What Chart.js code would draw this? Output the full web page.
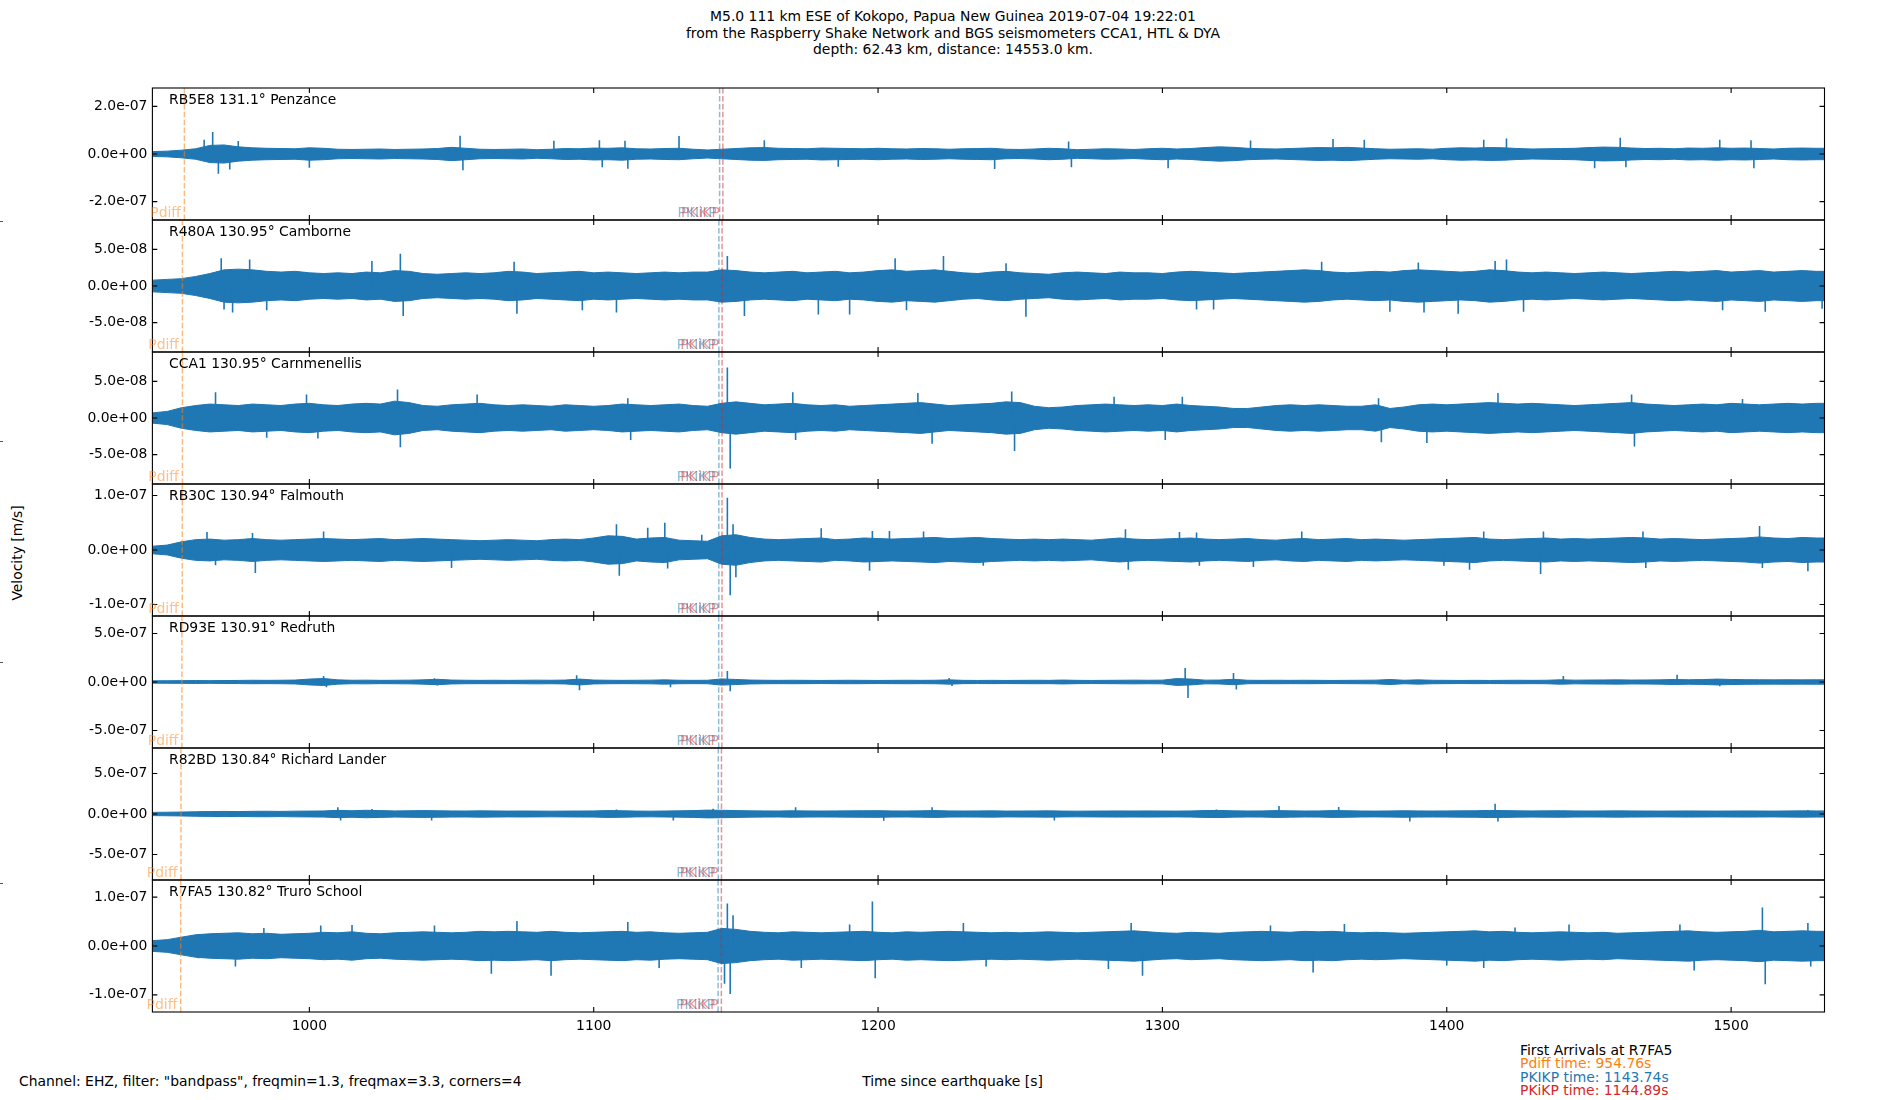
<!DOCTYPE html>
<html>
<head>
<meta charset="utf-8">
<script src="https://cdn.jsdelivr.net/npm/chart.js@4.4.1/dist/chart.umd.min.js"></script>
<style>
  body { margin: 0; background: #fff; width: 1900px; height: 1100px; position: relative; overflow: hidden;
         font-family: "DejaVu Sans", sans-serif; font-size: 13.9px; color: #000; }
  .t { position: absolute; white-space: nowrap; line-height: 16.7px; }
  canvas { position: absolute; left: 0; }
  .mark { position: absolute; left: 0; width: 3px; height: 1px; background: #555; }
</style>
</head>
<body>
<div class="t" style="left:0;width:1906px;top:8px;text-align:center">M5.0 111 km ESE of Kokopo, Papua New Guinea 2019-07-04 19:22:01<br>from the Raspberry Shake Network and BGS seismometers CCA1, HTL &amp; DYA<br>depth: 62.43 km, distance: 14553.0 km.</div>
<div class="t" style="left:17px;top:553px;transform:translate(-50%,-50%) rotate(-90deg)">Velocity [m/s]</div>
<div class="t" style="left:19px;top:1073px">Channel: EHZ, filter: "bandpass", freqmin=1.3, freqmax=3.3, corners=4</div>
<div class="t" style="left:0;width:1905px;top:1073px;text-align:center">Time since earthquake [s]</div>
<div class="t" style="left:1520px;top:1044px;line-height:13.4px">First Arrivals at R7FA5<br><span style="color:#ff7f0e">Pdiff time: 954.76s</span><br><span style="color:#1f77b4">PKIKP time: 1143.74s</span><br><span style="color:#d62728">PKiKP time: 1144.89s</span></div>
<div class="mark" style="top:221px"></div>
<div class="mark" style="top:441px"></div>
<div class="mark" style="top:662px"></div>
<div class="mark" style="top:883px"></div>
<div id="panels"></div>
<script>
// time bins (s since origin), 5 s apart
const binTimes = [
  945, 950, 955, 960, 965, 970, 975, 980, 985, 990,
  995, 1000, 1005, 1010, 1015, 1020, 1025, 1030, 1035, 1040,
  1045, 1050, 1055, 1060, 1065, 1070, 1075, 1080, 1085, 1090,
  1095, 1100, 1105, 1110, 1115, 1120, 1125, 1130, 1135, 1140,
  1145, 1150, 1155, 1160, 1165, 1170, 1175, 1180, 1185, 1190,
  1195, 1200, 1205, 1210, 1215, 1220, 1225, 1230, 1235, 1240,
  1245, 1250, 1255, 1260, 1265, 1270, 1275, 1280, 1285, 1290,
  1295, 1300, 1305, 1310, 1315, 1320, 1325, 1330, 1335, 1340,
  1345, 1350, 1355, 1360, 1365, 1370, 1375, 1380, 1385, 1390,
  1395, 1400, 1405, 1410, 1415, 1420, 1425, 1430, 1435, 1440,
  1445, 1450, 1455, 1460, 1465, 1470, 1475, 1480, 1485, 1490,
  1495, 1500, 1505, 1510, 1515, 1520, 1525, 1530, 1535
];
const xTicks = [1000, 1100, 1200, 1300, 1400, 1500];

// trace envelopes, units of 1e-8 m/s (half-width of the dense band per bin)
const envRB5E8 = [
  1.0, 1.2, 1.6, 2.2, 3.6, 3.8, 3.0, 2.6, 2.4, 2.3,
  2.2, 2.6, 2.4, 2.0, 1.9, 2.0, 2.1, 1.9, 2.0, 2.1,
  2.3, 2.8, 2.4, 2.0, 1.9, 2.0, 2.1, 1.8, 2.0, 2.3,
  2.2, 2.5, 2.4, 2.6, 2.2, 2.1, 2.3, 2.4, 2.0, 1.7,
  2.0, 2.3, 2.6, 2.7, 2.4, 2.3, 2.2, 2.5, 2.4, 2.3,
  2.2, 2.4, 2.2, 2.1, 2.3, 2.2, 2.0, 2.2, 2.3, 2.4,
  2.0, 1.9, 2.1, 2.4, 2.2, 1.8, 2.0, 2.2, 2.1, 1.9,
  2.2, 2.4, 2.1, 2.3, 2.7, 3.0, 2.8, 2.4, 2.2, 2.1,
  2.3, 2.5, 2.7, 2.6, 2.8, 2.5, 2.2, 2.0, 2.1, 2.2,
  2.0, 2.4, 2.6, 2.5, 2.7, 2.6, 2.3, 2.1, 2.2, 2.3,
  2.4, 2.7, 2.9, 2.8, 2.5, 2.3, 2.4, 2.2, 2.5, 2.4,
  2.6, 2.4, 2.5, 2.3, 2.1, 2.4, 2.5, 2.4, 2.4
];
const envR480A = [
  0.8, 0.9, 1.0, 1.3, 1.7, 2.2, 2.3, 2.2, 2.0, 1.9,
  2.0, 1.8, 1.7, 1.8, 1.7, 1.9, 1.8, 2.1, 2.0, 1.7,
  1.6, 1.7, 1.8, 1.7, 1.8, 2.0, 1.9, 1.7, 1.8, 1.9,
  2.0, 1.8, 1.9, 1.8, 1.7, 1.8, 1.9, 1.8, 1.9, 1.9,
  2.2, 2.1, 1.9, 1.8, 1.9, 2.0, 1.8, 1.9, 2.0, 1.8,
  1.9, 2.1, 2.2, 2.0, 2.1, 2.2, 2.0, 1.8, 1.7, 1.9,
  2.0, 1.8, 1.7, 1.6, 1.8, 1.9, 1.8, 1.7, 1.9, 1.8,
  1.8, 1.7, 1.9, 2.0, 1.9, 1.8, 1.7, 1.8, 1.9, 2.0,
  2.1, 2.2, 2.1, 1.9, 1.8, 1.9, 2.0, 1.9, 2.1, 2.2,
  2.1, 2.0, 1.9, 2.0, 2.2, 2.1, 1.9, 1.8, 1.9, 1.8,
  1.7, 1.8, 1.9, 1.8, 1.7, 1.8, 1.9, 2.0, 1.9, 2.0,
  2.1, 1.9, 2.0, 2.1, 1.9, 2.0, 2.1, 2.0, 2.0
];
const envCCA1 = [
  0.7, 0.9, 1.4, 1.7, 1.9, 1.8, 1.7, 1.9, 1.8, 1.7,
  1.9, 2.0, 1.8, 1.7, 1.9, 2.0, 1.9, 2.3, 2.1, 1.7,
  1.6, 1.8, 1.9, 2.0, 1.8, 1.7, 1.8, 1.7, 1.6, 1.8,
  1.7, 1.6, 1.7, 1.9, 1.8, 1.7, 1.8, 1.9, 1.7, 1.6,
  2.0, 2.2, 2.0, 1.8, 1.9, 2.0, 1.8, 1.7, 1.8, 1.6,
  1.7, 1.8, 1.9, 2.0, 2.1, 1.9, 1.7, 1.8, 1.9, 2.0,
  2.2, 2.1, 1.6, 1.4, 1.5, 1.7, 1.8, 1.9, 1.8, 1.7,
  1.8, 1.7, 1.9, 1.7, 1.6, 1.5, 1.3, 1.3, 1.5, 1.7,
  1.8, 1.7, 1.8, 1.7, 1.6, 1.6, 1.8, 1.3, 1.5, 1.8,
  1.9, 1.8, 1.9, 2.0, 2.1, 2.0, 1.9, 2.0, 1.9, 1.8,
  1.7, 1.8, 1.9, 2.0, 2.1, 1.9, 1.8, 1.7, 1.8, 1.9,
  1.8, 2.0, 1.9, 1.8, 1.9, 2.0, 1.9, 2.0, 2.0
];
const envRB30C = [
  0.7, 0.9, 1.5, 1.9, 2.0, 1.8, 1.9, 2.1, 1.9, 1.8,
  1.9, 2.0, 2.1, 2.0, 1.9, 2.0, 2.1, 1.9, 2.0, 2.1,
  2.0, 1.9, 1.8, 1.7, 1.8, 1.9, 1.8, 1.7, 1.9, 2.0,
  1.9, 2.2, 2.6, 2.5, 2.0, 2.2, 2.3, 1.8, 1.7, 1.6,
  2.6, 2.8, 2.3, 2.0, 1.9, 2.0, 2.1, 2.2, 1.9, 2.0,
  2.2, 2.1, 2.0, 2.1, 2.2, 2.3, 2.1, 2.2, 2.3, 2.1,
  2.0, 1.9, 2.0, 1.9, 2.0, 1.9, 1.8, 2.0, 2.2, 2.0,
  1.9, 2.0, 2.1, 2.2, 2.0, 1.9, 2.0, 2.1, 1.9, 1.8,
  2.0, 2.1, 1.9, 2.0, 2.1, 1.9, 2.0, 1.9, 1.8, 1.9,
  2.0, 2.1, 2.2, 2.3, 2.0, 1.9, 2.0, 2.1, 2.2, 2.0,
  2.1, 2.0, 2.1, 2.2, 2.3, 2.2, 2.0, 2.1, 2.0, 1.9,
  2.0, 2.1, 2.2, 2.4, 2.2, 2.1, 2.3, 2.2, 2.2
];
const envRD93E = [
  1.2, 1.3, 1.4, 1.5, 1.4, 1.5, 1.6, 1.8, 1.7, 1.8,
  2.0, 3.0, 3.6, 2.2, 1.8, 1.9, 1.7, 1.8, 1.9, 2.2,
  2.8, 2.0, 1.8, 1.7, 1.8, 1.7, 1.8, 1.9, 1.8, 2.0,
  3.0, 2.0, 1.8, 1.7, 1.8, 1.9, 2.2, 1.8, 1.7, 1.8,
  3.2, 2.6, 2.0, 1.8, 1.7, 1.8, 1.7, 1.6, 1.7, 1.8,
  1.7, 1.6, 1.7, 1.8, 1.7, 1.8, 2.2, 1.7, 1.6, 1.7,
  1.6, 1.7, 1.8, 1.7, 2.0, 1.7, 1.6, 1.7, 1.8, 1.9,
  1.8, 1.9, 3.5, 3.0, 1.9, 2.0, 2.8, 1.8, 1.7, 1.8,
  1.7, 1.8, 1.7, 1.6, 1.7, 1.8, 1.9, 2.6, 1.8, 2.2,
  1.8, 1.7, 1.6, 1.7, 1.6, 1.7, 1.8, 1.7, 1.8, 2.3,
  1.9, 2.0, 2.1, 2.2, 2.0, 2.1, 2.2, 2.6, 2.3, 2.5,
  3.0, 2.6, 2.4, 2.3, 2.2, 2.3, 2.2, 2.3, 2.3
];
const envR82BD = [
  2.0, 2.2, 2.4, 2.8, 3.0, 3.2, 3.0, 3.3, 3.4, 3.2,
  3.5, 3.6, 3.8, 4.5, 4.0, 4.6, 4.2, 3.8, 4.0, 4.2,
  4.0, 3.8, 3.7, 3.9, 3.8, 3.6, 3.7, 3.6, 3.5, 3.6,
  3.7, 3.8, 4.2, 4.0, 3.6, 3.5, 3.7, 3.9, 4.2, 4.8,
  4.6, 4.2, 3.9, 3.8, 3.7, 4.0, 3.8, 3.7, 3.8, 3.9,
  4.0, 4.1, 3.8, 3.7, 3.9, 4.2, 3.8, 3.7, 3.8, 3.9,
  3.6, 3.7, 3.8, 3.9, 3.6, 3.5, 3.6, 3.7, 3.8, 3.7,
  3.8, 3.7, 3.6, 3.8, 4.2, 4.4, 3.9, 3.7, 3.8, 4.2,
  3.9, 3.7, 3.8, 4.2, 4.0, 3.7, 3.6, 3.8, 4.0, 3.8,
  3.7, 3.8, 3.9, 4.0, 4.4, 4.2, 3.9, 3.8, 3.9, 4.0,
  3.8, 3.7, 3.8, 3.9, 3.8, 3.7, 3.6, 3.7, 3.8, 3.7,
  3.6, 3.7, 3.8, 3.7, 3.6, 3.8, 3.9, 3.8, 3.8
];
const envR7FA5 = [
  1.1, 1.3, 1.8, 2.3, 2.5, 2.6, 2.7, 2.5, 2.6, 2.4,
  2.5, 2.6, 2.8, 2.7, 2.9, 2.6, 2.5, 2.7, 2.8, 2.9,
  2.8, 2.7, 2.8, 3.0, 2.9, 3.0, 2.9, 2.8, 3.0, 2.8,
  2.7, 2.8, 2.9, 3.0, 2.8, 2.9, 2.7, 2.6, 2.7, 2.8,
  3.6, 3.4, 3.0, 2.8, 2.7, 2.9, 2.8, 2.7, 2.8, 2.9,
  3.0, 2.8, 2.7, 2.9, 2.8, 2.9, 3.0, 2.9, 2.8, 2.7,
  2.8, 2.7, 2.8, 2.9, 2.8, 2.7, 2.8, 2.9, 3.0, 3.1,
  2.9, 2.7, 2.6, 2.8, 2.7, 2.6, 2.8, 2.9, 3.0, 2.9,
  2.8, 3.0, 2.9, 3.0, 2.8, 2.7, 2.8, 2.7, 2.6, 2.7,
  2.8, 2.9, 3.0, 3.1, 2.9, 3.0, 2.8, 2.7, 2.8, 2.9,
  2.8, 2.7, 2.8, 2.6, 2.7, 2.8, 2.9, 3.0, 3.1, 2.9,
  2.8, 2.9, 3.0, 3.2, 2.9, 3.0, 3.1, 3.0, 3.0
];

// isolated peaks sticking out of the band: [time s, value 1e-8 m/s]
const spikesRB5E8 = [[963,6],[966,9.2],[968,-8.3],[972,-6.5],[975,5.5],[1000,-5.8],[1053,7.7],[1054,-6.8],[1086,5.6],
  [1102,5.8],[1103,-5.6],[1111,5.6],[1112,-6.2],[1130,7.6],[1160,5.8],[1186,-5.4],[1241,-6.3],[1267,5.2],[1268,-5.6],
  [1302,-6.0],[1331,5.7],[1360,6.3],[1371,6.0],[1413,6.0],[1421,6.5],[1452,-6.0],[1461,6.8],[1463,-5.6],[1496,6.0],
  [1507,5.8],[1508,-6.0]];
const spikesR480A = [[969,3.8],[970,-3.2],[973,-3.6],[979,3.6],[985,-3.3],[1022,3.4],[1032,4.4],[1033,-4.1],[1072,3.3],
  [1073,-3.8],[1096,-3.3],[1108,-3.6],[1147,4.1],[1153,-4.1],[1179,-3.9],[1190,-3.9],[1206,3.8],[1210,-3.3],[1223,4.1],
  [1245,3.1],[1252,-4.2],[1312,-3.2],[1318,-3.2],[1356,3.3],[1380,-3.5],[1390,3.2],[1392,-3.6],[1404,-3.8],[1417,3.4],
  [1421,3.6],[1427,-3.5],[1497,-3.3],[1512,-3.5],[1532,-3.1]];
const spikesCCA1 = [[967,3.5],[985,-2.7],[999,3.2],[1003,-2.8],[1031,3.9],[1032,-4.0],[1059,3.2],[1112,2.7],[1113,-3.0],
  [1147,6.9],[1148,-6.9],[1170,3.5],[1171,-3.0],[1214,3.4],[1219,-3.5],[1247,3.6],[1248,-4.5],[1283,2.9],[1301,-3.0],
  [1307,2.9],[1376,2.7],[1377,-3.3],[1393,-3.4],[1418,3.4],[1465,3.2],[1466,-3.9],[1504,2.6]];
const spikesRB30C = [[964,3.3],[967,-2.8],[980,3.1],[981,-4.2],[1005,3.4],[1050,-3.3],[1108,4.7],[1109,-4.7],[1119,4.1],
  [1125,5.0],[1126,-3.4],[1138,2.8],[1147,9.6],[1148,-8.3],[1149,4.7],[1150,-5.0],[1180,4.0],[1197,-3.8],[1198,3.5],
  [1204,3.5],[1216,3.4],[1237,-2.9],[1287,3.8],[1288,-3.6],[1306,3.3],[1312,3.2],[1313,-2.9],[1332,-3.1],[1349,3.4],
  [1399,-2.9],[1408,-3.6],[1413,3.4],[1433,-4.4],[1434,3.4],[1469,3.4],[1470,-3.3],[1510,4.4],[1511,-3.3],[1527,-3.9]];
const spikesRD93E = [[1005,6.3],[1006,-5.3],[1044,3.8],[1045,-3.5],[1094,7.0],[1095,-8.5],[1127,-5.3],[1147,11.3],
  [1148,-9.5],[1225,4.0],[1226,-4.0],[1308,14.4],[1309,-16.5],[1325,9.2],[1326,-7.7],[1441,6.3],[1481,7.4],[1496,-4.5]];
const spikesR82BD = [[1010,8.4],[1011,-8.0],[1022,6.3],[1043,-8.0],[1108,5.5],[1128,-8.0],[1142,6.5],[1171,8.4],
  [1202,-8.4],[1219,8.2],[1262,-8.0],[1319,5.5],[1341,10.0],[1362,8.6],[1387,-9.3],[1417,12.7],[1418,-9.3],[1527,5.0]];
const spikesR7FA5 = [[961,-2.5],[974,-4.2],[984,3.7],[1004,4.2],[1015,4.3],[1044,4.2],[1064,-5.7],[1073,5.1],[1085,-6.1],
  [1112,4.9],[1123,-4.5],[1146,-7.7],[1147,8.7],[1148,-9.8],[1149,6.3],[1173,-4.5],[1190,4.4],[1198,9.1],[1199,-6.6],
  [1230,4.7],[1238,-4.2],[1281,-4.7],[1289,4.7],[1293,-6.1],[1338,4.2],[1353,-5.4],[1364,4.5],[1400,-4.0],[1413,-4.5],
  [1424,3.8],[1443,4.4],[1482,4.4],[1487,-5.0],[1511,7.9],[1512,-7.8],[1527,4.7],[1528,-4.2]];

const stations = ["RB5E8 131.1° Penzance", "R480A 130.95° Camborne", "CCA1 130.95° Carnmenellis",
  "RB30C 130.94° Falmouth", "RD93E 130.91° Redruth", "R82BD 130.84° Richard Lander", "R7FA5 130.82° Truro School"];
const pdiffTimes = [956.05, 955.36, 955.36, 955.31, 955.17, 954.85, 954.76];
const pkikpTimes = [1144.28, 1144.02, 1144.02, 1144.0, 1143.95, 1143.82, 1143.74];
const pkikpiTimes = [1145.42, 1145.14, 1145.14, 1145.12, 1145.06, 1144.93, 1144.89];
const yLimits = [27.7, 9.0, 9.0, 12.1, 68, 81.6, 13.5];
const yTickSets = [[-20, 0, 20], [-5, 0, 5], [-5, 0, 5], [-10, 0, 10], [-50, 0, 50], [-50, 0, 50], [-10, 0, 10]];
const envelopes = [envRB5E8, envR480A, envCCA1, envRB30C, envRD93E, envR82BD, envR7FA5];
const spikeSets = [spikesRB5E8, spikesR480A, spikesCCA1, spikesRB30C, spikesRD93E, spikesR82BD, spikesR7FA5];

const BLUE = "#1f77b4";
const FONT = '13.9px "DejaVu Sans"';
Chart.defaults.font.family = '"DejaVu Sans"';
Chart.defaults.font.size = 13.9;
Chart.defaults.color = "#000";

function sci(v) {
  const [m, e] = (v * 1e-8).toExponential(1).split("e");
  const sign = e[0] === "-" ? "-" : "+";
  return m + "e" + sign + e.replace(/[+-]/, "").padStart(2, "0");
}

// frame, inward ticks on all sides, station + phase labels
const panelDecor = {
  id: "panelDecor",
  afterDatasetsDraw(chart, args, o) {
    const { ctx, chartArea: a, scales: { x, y } } = chart;
    ctx.save();
    ctx.strokeStyle = "#000";
    ctx.lineWidth = 1.1;
    ctx.strokeRect(a.left, a.top, a.right - a.left, a.bottom - a.top);
    ctx.beginPath();
    xTicks.forEach((v) => {
      const px = x.getPixelForValue(v);
      ctx.moveTo(px, a.top); ctx.lineTo(px, a.top + 4.9);
      ctx.moveTo(px, a.bottom); ctx.lineTo(px, a.bottom - 4.9);
    });
    o.yTicks.forEach((v) => {
      const py = y.getPixelForValue(v);
      ctx.moveTo(a.left, py); ctx.lineTo(a.left + 4.9, py);
      ctx.moveTo(a.right, py); ctx.lineTo(a.right - 4.9, py);
    });
    ctx.stroke();
    ctx.font = FONT;
    ctx.fillStyle = "#000";
    ctx.textAlign = "left";
    ctx.textBaseline = "alphabetic";
    ctx.fillText(o.label, a.left + 16.6, a.top + 15.7);
    ctx.textAlign = "right";
    ctx.textBaseline = "bottom";
    o.phases.forEach(([name, t, col, gap]) => {
      ctx.fillStyle = col;
      ctx.fillText(name, x.getPixelForValue(t) - gap, a.bottom);
    });
    ctx.restore();
  },
};

function arrivalLine(t, lim, col) {
  return {
    data: [{ x: t, y: -lim }, { x: t, y: lim }],
    borderColor: col, borderWidth: 1.5, borderDash: [5.5, 2.4], order: 0, clip: 0,
  };
}

const holder = document.getElementById("panels");
stations.forEach((label, i) => {
  const last = i === stations.length - 1;
  const lim = yLimits[i];
  const env = envelopes[i];
  const cv = document.createElement("canvas");
  const h = last ? 174 : 148;
  cv.width = 1900; cv.height = h;
  cv.style.width = "1900px"; cv.style.height = h + "px";
  cv.style.top = (88 + 132 * i - 8) + "px";
  holder.appendChild(cv);

  const spikePts = [];
  spikeSets[i].forEach(([t, v]) => { spikePts.push({ x: t, y: 0 }, { x: t, y: v }, { x: t, y: null }); });

  const xScale = {
    type: "linear", min: 944.8, max: 1532.84,
    display: last,
    grid: { display: false, drawTicks: false },
    border: { display: false },
    afterBuildTicks: (ax) => { ax.ticks = xTicks.map((v) => ({ value: v })); },
    afterFit: (ax) => { ax.paddingLeft = 0; ax.paddingRight = 0; if (last) ax.height = 30; },
    ticks: { padding: 6, maxRotation: 0, autoSkip: false, callback: (v) => String(v) },
  };

  new Chart(cv, {
    type: "line",
    data: {
      datasets: [
        { data: binTimes.map((t, k) => ({ x: t, y: env[k] })), borderColor: BLUE, backgroundColor: BLUE,
          borderWidth: 1, fill: "+1", order: 2 },
        { data: binTimes.map((t, k) => ({ x: t, y: -env[k] })), borderColor: BLUE, borderWidth: 1, fill: false, order: 2 },
        { data: spikePts, borderColor: BLUE, borderWidth: 1.6, spanGaps: false, order: 1 },
        arrivalLine(pdiffTimes[i], lim, "rgba(255,127,14,0.55)"),
        arrivalLine(pkikpTimes[i], lim, "rgba(31,119,180,0.5)"),
        arrivalLine(pkikpiTimes[i], lim, "rgba(214,39,40,0.5)"),
      ],
    },
    options: {
      responsive: false,
      animation: false,
      devicePixelRatio: 1,
      layout: { padding: { top: 8, bottom: last ? 4 : 8, left: 0, right: 75.5 } },
      elements: { point: { radius: 0 }, line: { tension: 0 } },
      plugins: {
        legend: { display: false },
        tooltip: { enabled: false },
        panelDecor: {
          label,
          yTicks: yTickSets[i],
          phases: [
            ["Pdiff", pdiffTimes[i], "rgba(255,127,14,0.5)", 3.5],
            ["PKIKP", pkikpTimes[i], "rgba(31,119,180,0.5)", 3],
            ["PKiKP", pkikpiTimes[i], "rgba(214,39,40,0.5)", 3],
          ],
        },
      },
      scales: {
        x: xScale,
        y: {
          type: "linear", min: -lim, max: lim,
          grid: { display: false, drawTicks: false },
          border: { display: false },
          afterBuildTicks: (ax) => { ax.ticks = yTickSets[i].map((v) => ({ value: v })); },
          afterFit: (ax) => { ax.width = 152.4; ax.paddingTop = 0; ax.paddingBottom = 0; },
          ticks: { padding: 5, callback: (v) => sci(v) },
        },
      },
    },
    plugins: [panelDecor],
  });
});
</script>
</body>
</html>
